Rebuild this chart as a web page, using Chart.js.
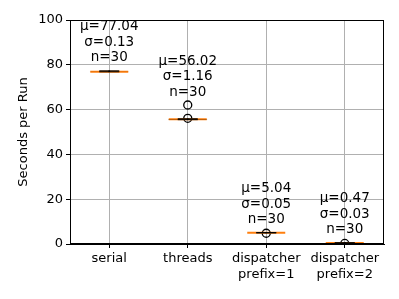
<!DOCTYPE html>
<html>
<head>
<meta charset="utf-8">
<script src="https://cdn.jsdelivr.net/npm/chart.js@4/dist/chart.umd.min.js"></script>
<style>
  html, body { margin: 0; padding: 0; background: #fff; }
  #wrap { width: 399px; height: 299px; }
  canvas { display: block; }
</style>
</head>
<body>
<div id="wrap"><canvas id="c" width="399" height="299"></canvas></div>
<script>
// values
var categories = ['serial', 'threads', 'dispatcher prefix=1', 'dispatcher prefix=2'];
var q1 = [76.9, 55.6, 4.98, 0.43];
var q3 = [76.98, 55.8, 5.07, 0.5];
var medians = [76.95, 55.7, 5.0, 0.47];
var whiskerLow = [76.88, 55.5, 4.95, 0.4];
var whiskerHigh = [77.3, 55.9, 5.1, 0.55];
var outliers = [[], [62.05, 56.1], [4.8], [0.25]];
var means = ['77.04', '56.02', '5.04', '0.47'];
var sigmas = ['0.13', '1.16', '0.05', '0.03'];
var counts = [30, 30, 30, 30];
var yTicks = [0, 20, 40, 60, 80, 100];

var FONT = 'DejaVu Sans';

function pts(arr) { return arr.map(function (v, i) { return { x: categories[i], y: v }; }); }
var outlierPts = [];
outliers.forEach(function (list, i) { list.forEach(function (v) { outlierPts.push({ x: categories[i], y: v }); }); });

var statsText = {
  id: 'statsText',
  afterDatasetsDraw: function (chart) {
    var ctx = chart.ctx, xs = chart.scales.x, ys = chart.scales.y;
    ctx.save();
    ctx.font = '13.5px "' + FONT + '"';
    ctx.fillStyle = '#000';
    ctx.textAlign = 'center';
    ctx.textBaseline = 'middle';
    categories.forEach(function (c, i) {
      var top = Math.max.apply(null, [whiskerHigh[i]].concat(outliers[i]));
      var px = xs.getPixelForValue(i);
      var py = ys.getPixelForValue(top) - 13;
      ctx.fillText('n=' + counts[i], px, py);
      ctx.fillText('\u03c3=' + sigmas[i], px, py - 15.5);
      ctx.fillText('\u03bc=' + means[i], px, py - 31);
    });
    ctx.restore();
  },
  afterDraw: function (chart) {
    var a = chart.chartArea, ctx = chart.ctx;
    ctx.save();
    ctx.strokeStyle = '#000';
    ctx.lineWidth = 1;
    ctx.strokeRect(Math.round(a.left) + 0.5, Math.round(a.top) + 0.5, Math.round(a.right - a.left) - 1, Math.round(a.bottom - a.top) - 1);
    ctx.restore();
  }
};

new Chart(document.getElementById('c').getContext('2d'), {
  type: 'bar',
  data: {
    labels: categories,
    datasets: [
      { label: 'box', data: q1.map(function (v, i) { return [v, q3[i]]; }), backgroundColor: 'rgba(0,0,0,0)', borderColor: '#000', borderWidth: 1, borderSkipped: false, barPercentage: 0.5, categoryPercentage: 1, grouped: false },
      { label: 'whisker low', data: whiskerLow.map(function (v, i) { return [v, q1[i]]; }), backgroundColor: '#000', barThickness: 1, grouped: false },
      { label: 'whisker high', data: q3.map(function (v, i) { return [v, whiskerHigh[i]]; }), backgroundColor: '#000', barThickness: 1, grouped: false },
      { type: 'line', label: 'caps', data: pts(whiskerLow).concat(pts(whiskerHigh)), showLine: false, pointStyle: 'line', pointRadius: 10, borderColor: '#000', borderWidth: 1, pointHoverRadius: 10 },
      { type: 'line', label: 'median', data: pts(medians), showLine: false, pointStyle: 'line', pointRadius: 19, borderColor: '#ff7f0e', borderWidth: 2, pointHoverRadius: 19 },
      { type: 'line', label: 'outliers', data: outlierPts, showLine: false, pointStyle: 'circle', pointRadius: 4, backgroundColor: 'rgba(0,0,0,0)', borderColor: '#000', borderWidth: 1.3, clip: 0 }
    ]
  },
  options: {
    responsive: false,
    animation: false,
    events: [],
    layout: { autoPadding: false, padding: { top: 20, right: 15, left: 0, bottom: 0 } },
    plugins: { legend: { display: false }, tooltip: { enabled: false } },
    scales: {
      x: {
        type: 'category',
        offset: true,
        grid: { color: '#b0b0b0', lineWidth: 1, offset: false, tickColor: '#000', tickLength: 4 },
        border: { color: '#000', width: 1 },
        ticks: {
          color: '#000', font: { family: FONT, size: 13 }, padding: 3, maxRotation: 0, autoSkip: false,
          callback: function (v) { return this.getLabelForValue(v).split(' '); }
        },
        afterFit: function (s) { s.height = 55; s.paddingLeft = 0; s.paddingRight = 0; }
      },
      y: {
        min: 0, max: 100,
        afterBuildTicks: function (s) { s.ticks = yTicks.map(function (v) { return { value: v }; }); },
        grid: { color: '#b0b0b0', lineWidth: 1, tickColor: '#000', tickLength: 4 },
        border: { color: '#000', width: 1 },
        ticks: { color: '#000', font: { family: FONT, size: 13 }, padding: 3 },
        title: { display: true, text: 'Seconds per Run', color: '#000', font: { family: FONT, size: 13 }, padding: { top: 16, bottom: 0 } },
        afterFit: function (s) { s.width = 70; s.paddingTop = 0; s.paddingBottom = 0; }
      }
    }
  },
  plugins: [statsText]
});
</script>
</body>
</html>
